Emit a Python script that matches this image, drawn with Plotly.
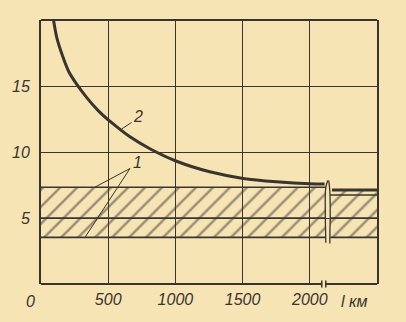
import plotly.graph_objects as go

# ---- data ----
dist_km = [94, 119, 156, 206, 268, 342, 429, 528, 662, 810, 1009, 1256, 1504, 1752, 2000, 2110]
curve2 = [19.95, 18.6, 17.4, 16.1, 15.1, 14.1, 13.1, 12.2, 11.15, 10.25, 9.3, 8.5, 8.0, 7.75, 7.6, 7.58]
curve2_tail_x = [2165, 2500]
curve2_tail_y = [7.12, 7.12]

band_low, band_mid, band_high = 3.53, 5.0, 7.33
band_high_right = 6.74
break_left, break_right = 2120, 2152
x_max, y_max = 2500, 20

x_ticks = [500, 1000, 1500, 2000]
x_ticklabels = ["500", "1000", "1500", "2000"]
y_ticks = [5, 10, 15]
y_ticklabels = ["5", "10", "15"]

INK = "#3a342e"
PAPER = "#f6e4b5"
FONT = "Liberation Sans, sans-serif"

fig = go.Figure()

hatch = dict(shape="/", size=12, solidity=0.2, fgcolor=INK, bgcolor="rgba(0,0,0,0)")
# hatched bands (left part)
fig.add_trace(go.Scatter(x=[0, break_left, break_left, 0, 0],
                         y=[band_low, band_low, band_high, band_high, band_low],
                         fill="toself", fillcolor="rgba(0,0,0,0)", fillpattern=hatch,
                         mode="lines", line=dict(width=0), hoverinfo="skip"))
# hatched bands (right part, after break)
fig.add_trace(go.Scatter(x=[break_right, x_max, x_max, break_right, break_right],
                         y=[band_low, band_low, curve2_tail_y[0], curve2_tail_y[0], band_low],
                         fill="toself", fillcolor="rgba(0,0,0,0)", fillpattern=hatch,
                         mode="lines", line=dict(width=0), hoverinfo="skip"))

# band boundary lines
for yv in [band_low, band_mid, band_high]:
    fig.add_trace(go.Scatter(x=[0, break_left], y=[yv, yv], mode="lines",
                             line=dict(color=INK, width=1.6), hoverinfo="skip"))
for yv in [band_low, band_mid, band_high_right]:
    fig.add_trace(go.Scatter(x=[break_right, x_max], y=[yv, yv], mode="lines",
                             line=dict(color=INK, width=1.6), hoverinfo="skip"))

# curve 2
fig.add_trace(go.Scatter(x=dist_km, y=curve2, mode="lines",
                         line=dict(color=INK, width=3, shape="spline", smoothing=0.8),
                         hoverinfo="skip"))
fig.add_trace(go.Scatter(x=curve2_tail_x, y=curve2_tail_y, mode="lines", line=dict(color=INK, width=3),
                         hoverinfo="skip"))

# break marks in the band (wavy lines)
brk_l_x = [2134, 2119, 2115, 2117, 2119]
brk_l_y = [7.84, 7.31, 5.52, 4.2, 3.13]
brk_r_x = [2141, 2149, 2152, 2150, 2149]
brk_r_y = [7.84, 7.01, 5.15, 4.2, 3.06]
fig.add_trace(go.Scatter(x=brk_l_x, y=brk_l_y, mode="lines", line=dict(color=INK, width=1.3, shape="spline"),
                         hoverinfo="skip"))
fig.add_trace(go.Scatter(x=brk_r_x, y=brk_r_y, mode="lines", line=dict(color=INK, width=1.3, shape="spline"),
                         hoverinfo="skip"))

# leader lines for labels
fig.add_trace(go.Scatter(x=[600, 674], y=[11.74, 12.24], mode="lines", line=dict(color=INK, width=1),
                         hoverinfo="skip"))
fig.add_trace(go.Scatter(x=[400, 662, 327], y=[band_high, 8.75, band_low], mode="lines",
                         line=dict(color=INK, width=1), hoverinfo="skip"))

lab_font = dict(family=FONT, size=16, color=INK, style="italic")
fig.add_annotation(x=725, y=12.7, text="2", showarrow=False, font=lab_font)
fig.add_annotation(x=715, y=9.2, text="1", showarrow=False, font=lab_font)

# origin label and axis unit
fig.add_annotation(x=0, y=0, xref="x", yref="paper", text="0", showarrow=False, font=lab_font,
                   xanchor="center", yanchor="middle", xshift=-11, yshift=-17)
fig.add_annotation(x=2330, y=0, xref="x", yref="paper", text="l км", showarrow=False, font=lab_font,
                   xanchor="center", yanchor="middle", yshift=-17)

shapes = []
# top border
shapes.append(dict(type="line", xref="paper", yref="paper", x0=0, x1=1, y0=1, y1=1,
                   line=dict(color=INK, width=2)))
# bottom axis with break
shapes.append(dict(type="line", xref="x", yref="paper", x0=0, x1=2089, y0=0, y1=0,
                   line=dict(color=INK, width=2)))
shapes.append(dict(type="line", xref="x", yref="paper", x0=2119, x1=x_max, y0=0, y1=0,
                   line=dict(color=INK, width=2)))
for xb in [2089, 2119]:
    shapes.append(dict(type="line", xref="x", yref="paper", x0=xb, x1=xb, y0=-0.013, y1=0.013,
                       line=dict(color=INK, width=1.5)))

fig.update_layout(
    width=406, height=322,
    margin=dict(l=41, r=29, t=20, b=38),
    paper_bgcolor=PAPER, plot_bgcolor=PAPER,
    showlegend=False,
    shapes=shapes,
    xaxis=dict(range=[0, x_max], tickvals=x_ticks, ticktext=x_ticklabels, showgrid=True,
               gridcolor=INK, gridwidth=1, zeroline=False, showline=False, ticks="",
               tickfont=lab_font, ticklabelstandoff=4),
    yaxis=dict(range=[0, y_max], tickvals=y_ticks, ticktext=y_ticklabels, showgrid=True,
               gridcolor=INK, gridwidth=1, zeroline=False, showline=True, mirror=True,
               linecolor=INK, linewidth=2, ticks="", tickfont=lab_font, ticklabelstandoff=6),
)

fig.write_html("out.html")
